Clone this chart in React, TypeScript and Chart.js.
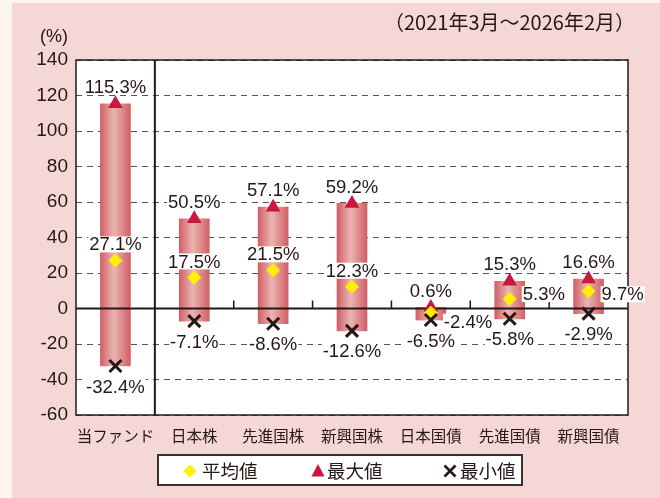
import { useEffect, useRef } from 'react';
import { Chart, registerables } from 'chart.js';

Chart.register(...registerables);

// ---- data ----
const CATEGORIES = ['当ファンド', '日本株', '先進国株', '新興国株', '日本国債', '先進国債', '新興国債'];
const MAX_VALUES = [115.3, 50.5, 57.1, 59.2, 0.6, 15.3, 16.6];
const AVG_VALUES = [27.1, 17.5, 21.5, 12.3, -2.4, 5.3, 9.7];
const MIN_VALUES = [-32.4, -7.1, -8.6, -12.6, -6.5, -5.8, -2.9];
const Y_MIN = -60;
const Y_MAX = 140;
const Y_STEP = 20;
const PERIOD_LABEL = '（2021年3月～2026年2月）';
const UNIT_LABEL = '(%)';
const LEGEND_LABELS = ['平均値', '最大値', '最小値'];

// ---- style ----
const INK = '#231815';
const MAX_COLOR = '#c9173f';
const AVG_COLOR = '#fff000';
const CREAM = '#fdf6ec';
const PINK = '#f5d8d5';
const CJK = '"Noto Sans CJK JP", sans-serif';
const LABEL_FONT = '18.5px "Liberation Sans Narrow", "Liberation Sans", Arial, sans-serif';
const AVG_LABEL_RIGHT = [false, false, false, false, true, true, true];
const AVG_LABEL_DY = [-16, -16, -16, -16, 9, -5, 3];

const fmt = (v: number) => v.toFixed(1) + '%';

function drawBoxedLabel(ctx: CanvasRenderingContext2D, text: string, x: number, y: number, align: 'center' | 'left') {
  ctx.font = LABEL_FONT;
  const w = ctx.measureText(text).width;
  const left = align === 'left' ? x : x - w / 2;
  ctx.fillStyle = '#ffffff';
  ctx.fillRect(left - 1, y - 8, w + 2, 16);
  ctx.fillStyle = INK;
  ctx.textAlign = 'left';
  ctx.textBaseline = 'middle';
  ctx.fillText(text, left, y + 1);
}

const decorPlugin = {
  id: 'decor',
  beforeDraw(chart: any) {
    const { ctx, chartArea: a } = chart;
    ctx.save();
    ctx.fillStyle = '#ffffff';
    ctx.fillRect(a.left, a.top, a.right - a.left, a.bottom - a.top);
    ctx.restore();
  },
  afterDatasetDraw(chart: any, args: any) {
    if (args.index !== 0) return;
    const { ctx, chartArea: a, scales } = chart;
    const xs = scales.x;
    const y0 = scales.y.getPixelForValue(0);
    ctx.save();
    ctx.strokeStyle = INK;
    ctx.lineWidth = 2;
    ctx.beginPath();
    ctx.moveTo(a.left, y0);
    ctx.lineTo(a.right, y0);
    ctx.stroke();
    // separator after first category
    const sep = (xs.getPixelForValue(0) + xs.getPixelForValue(1)) / 2;
    ctx.beginPath();
    ctx.moveTo(sep, a.top);
    ctx.lineTo(sep, a.bottom);
    ctx.stroke();
    // tick marks on zero line
    ctx.lineWidth = 1.5;
    for (let k = 2; k < CATEGORIES.length; k++) {
      const bx = (xs.getPixelForValue(k - 1) + xs.getPixelForValue(k)) / 2;
      ctx.beginPath();
      ctx.moveTo(bx, y0 - 8);
      ctx.lineTo(bx, y0);
      ctx.stroke();
    }
    ctx.restore();
  },
  afterDatasetsDraw(chart: any) {
    const { ctx, chartArea: a, scales } = chart;
    const xs = scales.x;
    const ys = scales.y;
    ctx.save();
    ctx.strokeStyle = INK;
    ctx.lineWidth = 1.5;
    ctx.strokeRect(a.left, a.top, a.right - a.left, a.bottom - a.top);
    CATEGORIES.forEach((_, i) => {
      const xc = xs.getPixelForValue(i);
      drawBoxedLabel(ctx, fmt(MAX_VALUES[i]), xc, ys.getPixelForValue(MAX_VALUES[i]) - 17, 'center');
      const ya = ys.getPixelForValue(AVG_VALUES[i]) + AVG_LABEL_DY[i];
      if (AVG_LABEL_RIGHT[i]) drawBoxedLabel(ctx, fmt(AVG_VALUES[i]), xc + 13, ya, 'left');
      else drawBoxedLabel(ctx, fmt(AVG_VALUES[i]), xc, ya, 'center');
      drawBoxedLabel(ctx, fmt(MIN_VALUES[i]), xc, ys.getPixelForValue(MIN_VALUES[i]) + 20.5, 'center');
    });
    ctx.restore();
  },
  afterDraw(chart: any) {
    const { ctx } = chart;
    ctx.save();
    ctx.fillStyle = INK;
    ctx.textBaseline = 'middle';
    // unit
    ctx.font = '18px "Liberation Sans", Arial, sans-serif';
    ctx.textAlign = 'center';
    ctx.fillText(UNIT_LABEL, 54, 37);
    // period
    ctx.font = '20px ' + CJK;
    ctx.textAlign = 'right';
    ctx.fillText(PERIOD_LABEL, 635, 22);
    // legend
    const lx = 158, ly = 455, lw = 364, lh = 30;
    ctx.fillStyle = '#ffffff';
    ctx.fillRect(lx, ly, lw, lh);
    ctx.strokeStyle = '#3a302c';
    ctx.lineWidth = 2;
    ctx.strokeRect(lx, ly, lw, lh);
    const cy = ly + lh / 2 + 1;
    // diamond
    ctx.fillStyle = AVG_COLOR;
    ctx.beginPath();
    ctx.moveTo(190, cy - 6.5);
    ctx.lineTo(196.5, cy);
    ctx.lineTo(190, cy + 6.5);
    ctx.lineTo(183.5, cy);
    ctx.closePath();
    ctx.fill();
    // triangle
    ctx.fillStyle = MAX_COLOR;
    ctx.beginPath();
    ctx.moveTo(318, cy - 7);
    ctx.lineTo(324.5, cy + 5.5);
    ctx.lineTo(311.5, cy + 5.5);
    ctx.closePath();
    ctx.fill();
    // cross
    ctx.strokeStyle = INK;
    ctx.lineWidth = 2.6;
    ctx.beginPath();
    ctx.moveTo(444.5, cy - 5.5);
    ctx.lineTo(455.5, cy + 5.5);
    ctx.moveTo(455.5, cy - 5.5);
    ctx.lineTo(444.5, cy + 5.5);
    ctx.stroke();
    ctx.fillStyle = INK;
    ctx.font = '18.5px ' + CJK;
    ctx.textAlign = 'left';
    ctx.fillText(LEGEND_LABELS[0], 202, cy);
    ctx.fillText(LEGEND_LABELS[1], 327, cy);
    ctx.fillText(LEGEND_LABELS[2], 460, cy);
    ctx.restore();
  },
};

export default function App() {
  const canvasRef = useRef<HTMLCanvasElement | null>(null);

  useEffect(() => {
    document.body.style.margin = '0';
    const canvas = canvasRef.current;
    if (!canvas) return;
    const chart = new Chart(canvas, {
      type: 'bar',
      data: {
        labels: CATEGORIES,
        datasets: [
          {
            type: 'bar',
            label: 'range',
            data: CATEGORIES.map((_, i) => [MIN_VALUES[i], MAX_VALUES[i]]) as any,
            barThickness: 30,
            borderWidth: 0,
            order: 4,
            backgroundColor: (c: any) => {
              const chart = c.chart;
              if (c.type !== 'data' || !chart.chartArea) return '#e09a98';
              const x = chart.scales.x.getPixelForValue(c.dataIndex);
              const g = chart.ctx.createLinearGradient(x - 15, 0, x + 15, 0);
              g.addColorStop(0, '#d15f66');
              g.addColorStop(0.45, '#ebb5b1');
              g.addColorStop(1, '#d15f66');
              return g;
            },
          } as any,
          {
            type: 'line',
            label: LEGEND_LABELS[1],
            data: MAX_VALUES,
            showLine: false,
            order: 3,
            pointStyle: 'triangle',
            pointRadius: 8.5,
            pointHoverRadius: 8.5,
            pointBackgroundColor: MAX_COLOR,
            pointBorderWidth: 0,
            pointBorderColor: MAX_COLOR,
          } as any,
          {
            type: 'line',
            label: LEGEND_LABELS[0],
            data: AVG_VALUES,
            showLine: false,
            order: 2,
            pointStyle: 'rectRot',
            pointRadius: 7,
            pointHoverRadius: 7,
            pointBackgroundColor: AVG_COLOR,
            pointBorderWidth: 0,
            pointBorderColor: AVG_COLOR,
          } as any,
          {
            type: 'line',
            label: LEGEND_LABELS[2],
            data: MIN_VALUES,
            showLine: false,
            order: 1,
            pointStyle: 'crossRot',
            pointRadius: 8.5,
            pointHoverRadius: 8.5,
            pointBorderColor: INK,
            pointBorderWidth: 3,
          } as any,
        ],
      },
      options: {
        responsive: false,
        animation: false,
        events: [],
        layout: { padding: { top: 60, right: 32, bottom: 0, left: 0 } },
        plugins: { legend: { display: false }, tooltip: { enabled: false } },
        scales: {
          x: {
            grid: { display: false },
            border: { display: false },
            ticks: {
              color: INK,
              font: { family: CJK, size: 15.5 },
              padding: 4,
              maxRotation: 0,
              autoSkip: false,
            },
            afterFit: (s: any) => {
              s.height = 83;
            },
          },
          y: {
            min: Y_MIN,
            max: Y_MAX,
            grid: { color: '#555555', lineWidth: 1, drawTicks: false },
            border: { display: false, dash: [6, 5] },
            ticks: {
              stepSize: Y_STEP,
              color: INK,
              font: { family: '"Liberation Sans", Arial, sans-serif', size: 19 },
              padding: 8,
            },
            afterFit: (s: any) => {
              s.width = 76;
            },
          },
        },
      },
      plugins: [decorPlugin],
    });
    return () => chart.destroy();
  }, []);

  return (
    <div style={{ position: 'relative', width: 660, height: 498, background: CREAM, overflow: 'hidden' }}>
      <div style={{ position: 'absolute', left: 12, top: 3, right: 0, bottom: 0, background: PINK }} />
      <canvas ref={canvasRef} width={660} height={498} style={{ position: 'absolute', left: 0, top: 0 }} />
    </div>
  );
}
